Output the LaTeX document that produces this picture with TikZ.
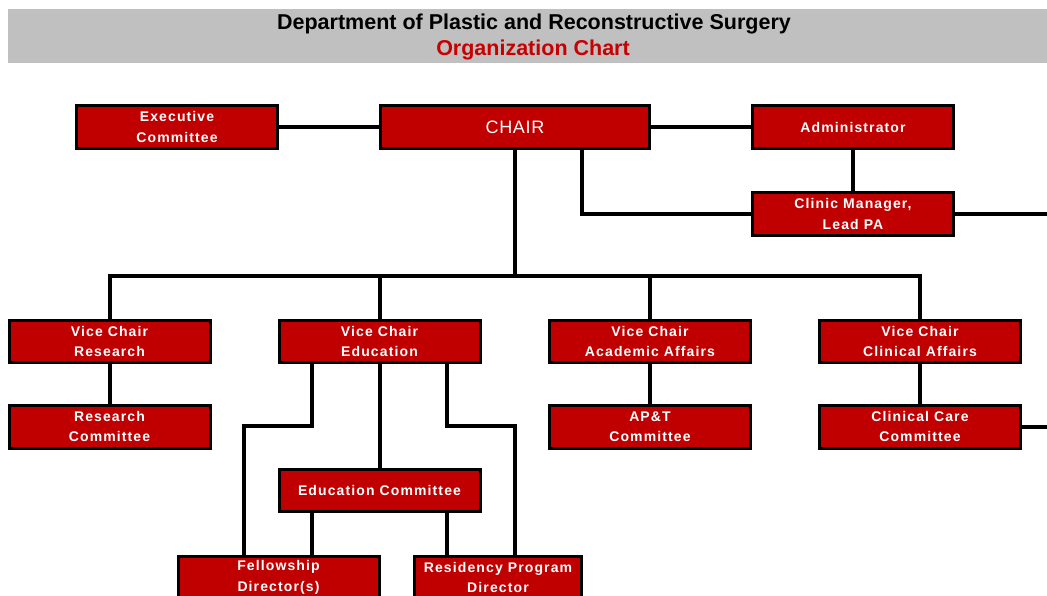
\documentclass[tikz,border=0pt]{standalone}
\usepackage{fontspec}
\setmainfont{Liberation Sans}
\usetikzlibrary{backgrounds}
\definecolor{boxred}{RGB}{192,0,0}
\definecolor{bandgray}{RGB}{192,192,192}
\definecolor{titlered}{RGB}{200,0,0}
\tikzset{
  orgbox/.style={draw=black, line width=3pt, fill=boxred, text=white,
    minimum width=201pt, minimum height=42pt, inner sep=0pt, align=center,
    font=\fontsize{14}{20.5}\selectfont\bfseries\addfontfeature{LetterSpace=8}},
  tallbox/.style={orgbox, minimum height=43pt},
  link/.style={line width=4pt, line cap=rect},
}
\begin{document}
\begin{tikzpicture}[x=1pt,y=-1pt]
\useasboundingbox (0,0) rectangle (1047,595);
\clip (0,0) rectangle (1047,595);
% header band
\fill[bandgray] (8,9) rectangle (1047,63);
\node[inner sep=0pt, font=\fontsize{21.5}{21.5}\selectfont\bfseries] (title) at (534,24) {Department of Plastic and Reconstructive Surgery};
\node[inner sep=0pt, text=titlered, font=\fontsize{21.5}{21.5}\selectfont\bfseries] (subtitle) at (533,50) {Organization Chart};

% nodes
\node[tallbox] (exec) at (177,127) {Executive\\Committee};
\node[tallbox, minimum width=269pt, font=\fontsize{18}{20}\selectfont\addfontfeature{LetterSpace=4}] (chair) at (515,127) {CHAIR};
\node[tallbox] (admin) at (853,127) {Administrator};
\node[tallbox] (clinic) at (853,214) {Clinic Manager,\\Lead PA};
\node[orgbox] (vcr) at (109.5,341.5) {Vice Chair\\Research};
\node[tallbox] (rc) at (109.5,426.5) {Research\\Committee};
\node[orgbox] (vce) at (379.5,341.5) {Vice Chair\\Education};
\node[orgbox] (vcaa) at (650,341.5) {Vice Chair\\Academic Affairs};
\node[tallbox] (apt) at (650,426.5) {AP\&T\\Committee};
\node[orgbox] (vcca) at (920,341.5) {Vice Chair\\Clinical Affairs};
\node[tallbox] (ccc) at (920,426.5) {Clinical Care\\Committee};
\node[orgbox] (edc) at (379.5,490.5) {Education Committee};
\node[tallbox, anchor=north] (fel) at (278.5,554.5) {Fellowship\\Director(s)};
\node[tallbox, anchor=north, minimum width=167pt] (res) at (498,554.5) {Residency Program\\Director};

% free ends and elbows
\coordinate (rightA) at (1047,214);
\coordinate (rightB) at (1047,426.5);
\coordinate (bus) at (515,276);
\coordinate (elbowL) at (244,426);
\coordinate (elbowR) at (515,426);

% connectors
\begin{pgfonlayer}{background}
\begin{scope}[link]
\draw (exec.east) -- (chair.west);
\draw (chair.east) -- (admin.west);
\draw (admin.south) -- (clinic.north);
\draw ([xshift=67pt]chair.south) |- (clinic.west);
\draw (clinic.east) -- (rightA);
\draw (chair.south) -- (bus);
\draw (vcr.north) |- (bus);
\draw (vce.north) |- (bus);
\draw (vcaa.north) |- (bus);
\draw (vcca.north) |- (bus);
\draw (vcr.south) -- (rc.north);
\draw (vcaa.south) -- (apt.north);
\draw (vcca.south) -- (ccc.north);
\draw (ccc.east) -- (rightB);
\draw ([xshift=-67.5pt]vce.south) |- (elbowL) -- (elbowL |- fel.north);
\draw (vce.south) -- (edc.north);
\draw ([xshift=67.5pt]vce.south) |- (elbowR) -- (elbowR |- res.north);
\draw ([xshift=-67.5pt]edc.south) -- ([xshift=-67.5pt]edc.south |- fel.north);
\draw ([xshift=67.5pt]edc.south) -- ([xshift=67.5pt]edc.south |- res.north);
\end{scope}
\end{pgfonlayer}
\end{tikzpicture}
\end{document}
